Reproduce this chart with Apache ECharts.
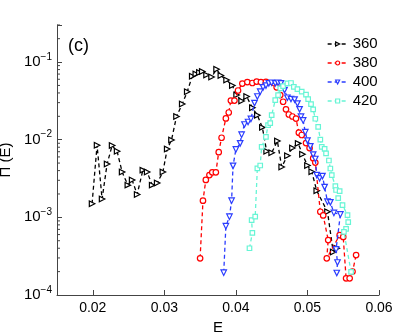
<!DOCTYPE html>
<html>
<head>
<meta charset="utf-8">
<script src="https://cdn.jsdelivr.net/npm/echarts@6/dist/echarts.min.js"></script>
<style>
  html, body { margin: 0; padding: 0; background: #fff; }
  #main { width: 419px; height: 333px; }
</style>
</head>
<body>
<div id="main"></div>
<script>
// series names
var names = ['360', '380', '400', '420'];

// E values and Pi(E) values per series
var e360 = [0.0199, 0.0206, 0.0213, 0.0220, 0.0227, 0.0234, 0.0241, 0.0249, 0.0255, 0.0262,
  0.0270, 0.0276, 0.0283, 0.0290, 0.0298, 0.0304, 0.0310, 0.0317, 0.0325, 0.0332,
  0.0339, 0.0344, 0.0349, 0.0353, 0.0359, 0.0366, 0.0373, 0.0379, 0.0387, 0.0395,
  0.0401, 0.0408, 0.0415, 0.0423, 0.0430, 0.0437, 0.0443, 0.0450, 0.0458, 0.0464,
  0.0472, 0.0479, 0.0487, 0.0493, 0.0500, 0.0506, 0.0513, 0.0528, 0.0536, 0.0541];
var p360 = [1.5e-3, 8.5e-3, 1.72e-3, 4.86e-3, 8.4e-3, 7.1e-3, 3.84e-3, 2.6e-3, 3.03e-3, 1.97e-3,
  4.06e-3, 3.84e-3, 2.6e-3, 2.77e-3, 3.84e-3, 7.6e-3, 9.9e-3, 0.0199, 0.0288, 0.0415,
  0.0655, 0.070, 0.0733, 0.0755, 0.068, 0.0641, 0.0807, 0.067, 0.0586, 0.0498,
  0.0376, 0.0315, 0.036, 0.0258, 0.0207, 0.0144, 7.1e-3, 6.8e-3, 9.6e-3, 4.45e-3,
  6.2e-3, 7.8e-3, 8.97e-3, 6.5e-3, 4.65e-3, 3.87e-3, 2.2e-3, 1.18e-3, 3.58e-4, 4.0e-4];

var e380 = [0.0350, 0.0354, 0.0358, 0.0363, 0.0367, 0.0372, 0.0376, 0.0380, 0.0386, 0.0390,
  0.0393, 0.0398, 0.0403, 0.0409, 0.0416, 0.0423, 0.0429, 0.0435, 0.0442, 0.0457,
  0.0462, 0.0466, 0.0470, 0.0474, 0.0479, 0.0484, 0.0488, 0.0492, 0.0498, 0.0503,
  0.0508, 0.0511, 0.0518, 0.0522, 0.0529, 0.0527, 0.0545, 0.0550, 0.0554, 0.0559,
  0.0563, 0.0568];
var p380 = [2.97e-4, 1.64e-3, 3.03e-3, 3.5e-3, 3.8e-3, 3.8e-3, 6.9e-3, 0.0106, 0.0188, 0.0224,
  0.0319, 0.0319, 0.0430, 0.0528, 0.0552, 0.0537, 0.0561, 0.0552, 0.0555, 0.0472,
  0.0376, 0.0308, 0.0246, 0.0211, 0.0199, 0.0187, 0.0123, 0.0115, 9.06e-3, 7.8e-3,
  5.75e-3, 5.08e-3, 1.18e-3, 1.06e-3, 5.1e-4, 2.97e-4, 5.9e-4, 5.6e-4, 1.64e-4, 1.64e-4,
  2.0e-4, 3.27e-4];

var e400 = [0.0383, 0.0386, 0.0391, 0.0394, 0.0396, 0.0400, 0.0406, 0.0408, 0.0412, 0.0417,
  0.0421, 0.0426, 0.0430, 0.0434, 0.0438, 0.0442, 0.0446, 0.0450, 0.0455, 0.0459,
  0.0463, 0.0468, 0.0472, 0.0477, 0.0482, 0.0486, 0.0489, 0.0491, 0.0494, 0.0497,
  0.0500, 0.0504, 0.0508, 0.0511, 0.0513, 0.0517, 0.0521, 0.0524, 0.0528, 0.0532,
  0.0537, 0.0546, 0.0540, 0.0542, 0.0541];
var p400 = [1.94e-4, 7.7e-4, 1.02e-3, 1.64e-3, 4.6e-3, 7.5e-3, 8.97e-3, 0.0116, 0.0157, 0.0169,
  0.0185, 0.0296, 0.036, 0.0415, 0.0472, 0.0498, 0.0532, 0.0541, 0.0532, 0.0541,
  0.0532, 0.0435, 0.0347, 0.0334, 0.0329, 0.0292, 0.0246, 0.0198, 0.0177, 0.0125,
  9.75e-3, 8.2e-3, 6.44e-3, 5.64e-3, 3.5e-3, 3.18e-3, 3.4e-3, 2.45e-3, 1.59e-3, 1.56e-3,
  1.14e-3, 1.09e-3, 3.86e-4, 2.62e-4, 1.92e-4];

var e420 = [0.0419, 0.0423, 0.0422, 0.0427, 0.0430, 0.0434, 0.0436, 0.0442, 0.0445, 0.0448,
  0.0450, 0.0455, 0.0459, 0.0462, 0.0466, 0.0472, 0.0477, 0.0481, 0.0486, 0.0492,
  0.0498, 0.0501, 0.0505, 0.0508, 0.0511, 0.0515, 0.0518, 0.0520, 0.0524, 0.0526,
  0.0530, 0.0532, 0.0534, 0.0539, 0.0540, 0.0545, 0.0543, 0.0549, 0.0556, 0.0557,
  0.0554, 0.0551, 0.0561];
var p420 = [4.0e-4, 6.3e-4, 9.2e-4, 1.02e-3, 4.28e-3, 4.65e-3, 8.1e-3, 0.0109, 0.0154, 0.0163,
  0.0207, 0.0324, 0.0376, 0.0458, 0.049, 0.0532, 0.0537, 0.048, 0.0449, 0.0415,
  0.0381, 0.0334, 0.0288, 0.0246, 0.0186, 0.0146, 0.01005, 8.1e-3, 7.6e-3, 6.67e-3,
  5.4e-3, 4.26e-3, 3.5e-3, 2.53e-3, 2.25e-3, 2.18e-3, 1.77e-3, 1.44e-3, 1.07e-3, 8.7e-4,
  7.1e-4, 6.5e-4, 1.98e-4];

// x tick values
var xTicks = [0.02, 0.03, 0.04, 0.05, 0.06];

function pairs(xs, ys) {
  var out = [];
  for (var i = 0; i < xs.length; i++) out.push([xs[i], ys[i]]);
  return out;
}

// minor ticks of the log axis (2..9 times each decade, up to the top)
var minorVals = [];
for (var d = -4; d <= -1; d++) {
  for (var m = 2; m <= 9; m++) {
    var v = m * Math.pow(10, d);
    if (v <= 0.3 + 1e-9) minorVals.push([0.015, v]);
  }
}

var colors = ['#000000', '#ff0000', '#2a3cff', '#66f5d5'];
var symbols = ['triangle', 'circle', 'triangle', 'rect'];
var rotates = [-90, 0, 180, 0];
var allE = [e360, e380, e400, e420];
var allP = [p360, p380, p400, p420];

var series = [];
var legendData = [];
for (var k = 0; k < 4; k++) {
  series.push({
    name: names[k],
    type: 'line',
    data: pairs(allE[k], allP[k]),
    symbol: symbols[k],
    symbolRotate: rotates[k],
    symbolSize: k == 3 ? 4.5 : 5.5,
    showAllSymbol: true,
    itemStyle: { color: '#ffffff', borderColor: colors[k], borderWidth: 1.2 },
    lineStyle: { color: colors[k], width: 1.3, type: [4, 3] },
    emphasis: { disabled: true },
    z: 3 + k
  });
  legendData.push({
    name: names[k],
    itemStyle: { color: '#ffffff', borderColor: colors[k], borderWidth: 1.2 },
    lineStyle: { color: colors[k], width: 1.3, type: [4, 3] }
  });
}

series.push({
  type: 'custom',
  coordinateSystem: 'cartesian2d',
  data: minorVals,
  silent: true,
  z: 10,
  renderItem: function (params, api) {
    var p = api.coord([api.value(0), api.value(1)]);
    return {
      type: 'line',
      shape: { x1: p[0], y1: p[1], x2: p[0] + 3, y2: p[1] },
      style: { stroke: '#444', lineWidth: 1 }
    };
  }
});

var myChart = echarts.init(document.getElementById('main'));
myChart.setOption({
  animation: false,
  textStyle: { fontFamily: 'Liberation Sans' },
  grid: { left: 57, right: 40, top: 25, bottom: 38, outerBoundsMode: 'none' },
  legend: {
    data: legendData,
    orient: 'vertical',
    left: 322,
    top: 31,
    itemWidth: 20,
    itemHeight: 5,
    itemGap: 3,
    textStyle: { fontSize: 15, lineHeight: 16, color: '#000', fontFamily: 'Liberation Sans' }
  },
  graphic: [{
    type: 'text',
    left: 68,
    top: 37,
    style: { text: '(c)', fontSize: 18, fill: '#000', fontFamily: 'Liberation Sans' }
  }],
  xAxis: {
    type: 'value',
    min: 0.015,
    max: 0.06,
    name: 'E',
    nameLocation: 'middle',
    nameGap: 20,
    nameTextStyle: { fontSize: 15, color: '#000' },
    axisLine: { lineStyle: { color: '#444', width: 1 } },
    axisTick: { inside: true, length: 5, lineStyle: { color: '#444' },
      customValues: xTicks },
    axisLabel: { fontSize: 14, color: '#000', margin: 6,
      customValues: xTicks,
      formatter: function (v) { return v.toFixed(2); } },
    splitLine: { show: false }
  },
  yAxis: {
    type: 'log',
    logBase: 10,
    min: 1e-4,
    max: 0.3,
    name: 'Π (E)',
    nameLocation: 'middle',
    nameGap: 40,
    nameTextStyle: { fontSize: 15, color: '#000' },
    axisLine: { show: true, lineStyle: { color: '#444', width: 1 } },
    axisTick: { show: true, inside: true, length: 5, lineStyle: { color: '#444' } },
    axisLabel: {
      margin: 5,
      color: '#000',
      formatter: function (v) {
        var ex = Math.round(Math.log10(v));
        if (Math.abs(Math.log10(v) - ex) > 1e-6) return '';
        return '{b|10}{s|\u2212' + Math.abs(ex) + '}';
      },
      rich: {
        b: { fontSize: 15, color: '#000', fontFamily: 'Liberation Sans' },
        s: { fontSize: 10, color: '#000', fontFamily: 'Liberation Sans', verticalAlign: 'top', padding: [0, 0, 10, 0] }
      }
    },
    splitLine: { show: false }
  },
  series: series
});
</script>
</body>
</html>
